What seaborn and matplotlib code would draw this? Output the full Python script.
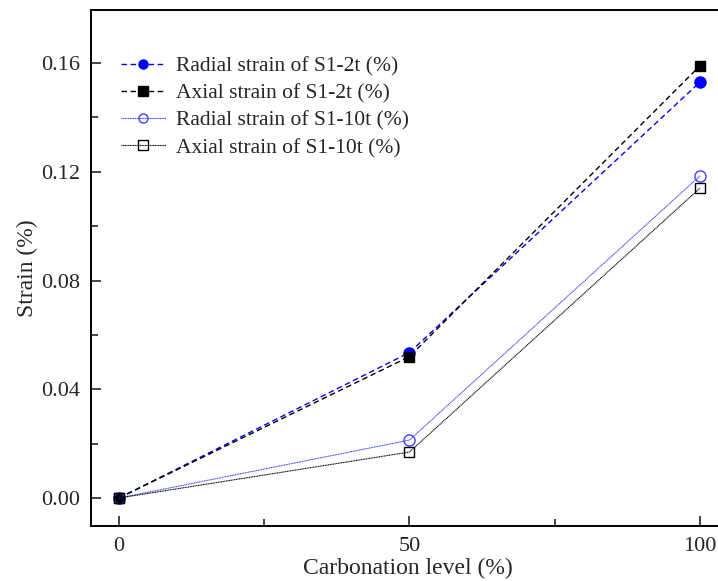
import matplotlib
matplotlib.use("Agg")
import matplotlib.pyplot as plt
import seaborn as sns
import pandas as pd

carbonation = [0, 50, 100]
radial_2t = [0.0, 0.0535, 0.153]
axial_2t = [0.0, 0.052, 0.159]
radial_10t = [0.0, 0.0213, 0.1185]
axial_10t = [0.0, 0.0169, 0.114]
labels = ["Radial strain of S1-2t (%)", "Axial strain of S1-2t (%)",
          "Radial strain of S1-10t (%)", "Axial strain of S1-10t (%)"]

sns.set_style("ticks")
plt.rcParams['font.family'] = ['Liberation Serif', 'DejaVu Serif']

fig = plt.figure(figsize=(7.18, 5.81), dpi=100)
ax = fig.add_axes([91 / 718, 55 / 581, (725 - 91) / 718, (526 - 10) / 581])

styles = [
    (radial_2t, "#0000ff", (0, (4, 2.5)), "o", "#0000ff", 1.0, 8),
    (axial_2t, "#000000", (0, (4, 2.5)), "s", "#000000", 1.0, 7.5),
    (radial_10t, "#4040ff", (0, (1, 0.5)), "o", "none", 0.8, 8),
    (axial_10t, "#000000", (0, (1, 0.5)), "s", "none", 0.8, 7.5),
]
for (vals, col, ls, mk, mfc, lw, ms), lab in zip(styles, labels):
    df = pd.DataFrame({"x": carbonation, "y": vals})
    sns.lineplot(data=df, x="x", y="y", ax=ax, color=col, linestyle=ls, linewidth=lw,
                 marker=mk, markersize=ms, markerfacecolor=mfc, markeredgecolor=col,
                 markeredgewidth=1.0, label=lab)

ax.set_xlim(-4.8, 104.3)
ax.set_ylim(-0.0103, 0.1795)
ax.set_xticks([0, 50, 100])
ax.set_xticks([25, 75], minor=True)
ax.set_yticks([0.0, 0.04, 0.08, 0.12, 0.16])
ax.set_yticks([0.02, 0.06, 0.10, 0.14], minor=True)
ax.set_yticklabels(["0.00", "0.04", "0.08", "0.12", "0.16"])
ax.tick_params(axis="both", which="major", direction="in", length=7, width=1.2, labelsize=16, pad=8)
ax.tick_params(axis="both", which="minor", direction="in", length=5, width=1.2)
for s in ax.spines.values():
    s.set_linewidth(1.4)
    s.set_color("black")

ax.set_xlabel("Carbonation level (%)", fontsize=17, labelpad=1.5)
ax.set_ylabel("Strain (%)", fontsize=17, labelpad=2)

leg = ax.legend(loc="upper left", bbox_to_anchor=(0.047, 0.91), frameon=False, fontsize=15.5,
                handlelength=2.1, handletextpad=0.45, labelspacing=0.33,
                borderaxespad=0, borderpad=0)
for h in leg.legend_handles:
    h.set_markersize(6.5)

fig.savefig("out.png", dpi=100)
